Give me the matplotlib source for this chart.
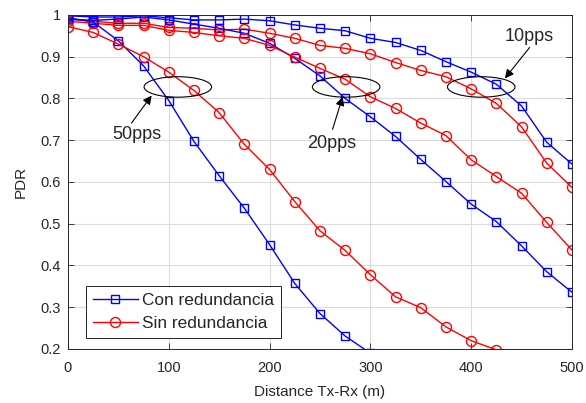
import numpy as np
import matplotlib
matplotlib.use("Agg")
import matplotlib.pyplot as plt
from matplotlib.patches import Ellipse

plt.rcParams['font.family'] = ['Liberation Sans', 'DejaVu Sans']

# distance Tx-Rx (m)
dist = np.arange(0, 525, 25)

# PDR con redundancia (blue squares)
con_10pps = [0.998, 0.995, 0.995, 0.998, 0.993, 0.988, 0.988, 0.990, 0.986, 0.976, 0.968,
             0.962, 0.944, 0.934, 0.915, 0.888, 0.863, 0.834, 0.782, 0.695, 0.643]
con_20pps = [0.990, 0.987, 0.990, 0.995, 0.988, 0.978, 0.968, 0.956, 0.932, 0.896, 0.854,
             0.800, 0.756, 0.709, 0.654, 0.601, 0.547, 0.505, 0.447, 0.385, 0.336]
con_50pps = [0.993, 0.983, 0.938, 0.878, 0.795, 0.697, 0.615, 0.537, 0.450, 0.357, 0.285,
             0.231, 0.190]

# PDR sin redundancia (red circles)
sin_10pps = [0.990, 0.985, 0.980, 0.980, 0.970, 0.968, 0.964, 0.966, 0.956, 0.944, 0.927,
             0.920, 0.907, 0.886, 0.867, 0.852, 0.823, 0.788, 0.732, 0.645, 0.587]
sin_20pps = [0.985, 0.980, 0.975, 0.975, 0.963, 0.958, 0.950, 0.944, 0.927, 0.899, 0.872,
             0.846, 0.804, 0.776, 0.741, 0.711, 0.653, 0.613, 0.573, 0.503, 0.437]
sin_50pps = [0.972, 0.958, 0.930, 0.900, 0.863, 0.819, 0.766, 0.690, 0.630, 0.553, 0.483,
             0.436, 0.378, 0.325, 0.299, 0.253, 0.220, 0.198]

xticks = [0, 100, 200, 300, 400, 500]
yticks = [0.2, 0.3, 0.4, 0.5, 0.6, 0.7, 0.8, 0.9, 1.0]
ytick_labels = ['0.2', '0.3', '0.4', '0.5', '0.6', '0.7', '0.8', '0.9', '1']

# annotation groups: label, ellipse centre x, arrow tip, arrow tail, text position
groups = [('50pps', 109, (83, 0.807), (63, 0.741), (68, 0.713)),
          ('20pps', 276, (272.5, 0.804), (262.5, 0.726), (261.5, 0.691)),
          ('10pps', 410, (433.5, 0.848), (458, 0.922), (458, 0.948))]

txt = '#262626'
fig = plt.figure(figsize=(5.86, 4.03), dpi=100)
ax = fig.add_axes([0.116, 0.134, 0.860, 0.829])

blue = dict(color='#0000ff', marker='s', ms=5.8, mfc='none', mew=1.0, lw=1.0)
red = dict(color='#ff0000', marker='o', ms=7.2, mfc='none', mew=1.0, lw=1.0)

ax.plot(dist[:len(con_10pps)], con_10pps, **blue, label='Con redundancia')
ax.plot(dist[:len(sin_10pps)], sin_10pps, **red, label='Sin redundancia')
ax.plot(dist[:len(con_20pps)], con_20pps, **blue)
ax.plot(dist[:len(sin_20pps)], sin_20pps, **red)
ax.plot(dist[:len(con_50pps)], con_50pps, **blue)
ax.plot(dist[:len(sin_50pps)], sin_50pps, **red)

for name, cx, tip, tail, pos in groups:
    ax.add_patch(Ellipse((cx, 0.8275), 67, 0.049, fill=False, ec='black', lw=0.8, zorder=5))
    ax.annotate('', xy=tip, xytext=tail,
                arrowprops=dict(arrowstyle='-|>', color='black', lw=0.8,
                                mutation_scale=13, shrinkA=0, shrinkB=0))
    ax.text(pos[0], pos[1], name, fontsize=13, color=txt, ha='center', va='center')

ax.set_xlim(0, 500)
ax.set_ylim(0.2, 1.0)
ax.set_xticks(xticks)
ax.set_yticks(yticks)
ax.set_yticklabels(ytick_labels)
ax.tick_params(direction='in', length=4, width=0.6, top=True, right=True,
               labelsize=10.5, labelcolor=txt, color=txt, pad=5)
ax.tick_params(axis='x', pad=9)
ax.grid(True, color='#dcdcdc', lw=0.8)
ax.set_axisbelow(True)
for s in ax.spines.values():
    s.set_color(txt)
    s.set_linewidth(0.7)

ax.set_xlabel('Distance Tx-Rx (m)', fontsize=11, color=txt, labelpad=7)
ax.set_ylabel('PDR', fontsize=11, color=txt, labelpad=9)

leg = ax.legend(loc='lower left', bbox_to_anchor=(0.035, 0.032), fontsize=12.4,
                handlelength=2.6, fancybox=False, framealpha=1, edgecolor=txt,
                borderpad=0.42, labelspacing=0.45, handletextpad=0.25, borderaxespad=0)
leg.get_frame().set_linewidth(0.7)
for t in leg.get_texts():
    t.set_color(txt)

fig.savefig('out.png', dpi=100)
